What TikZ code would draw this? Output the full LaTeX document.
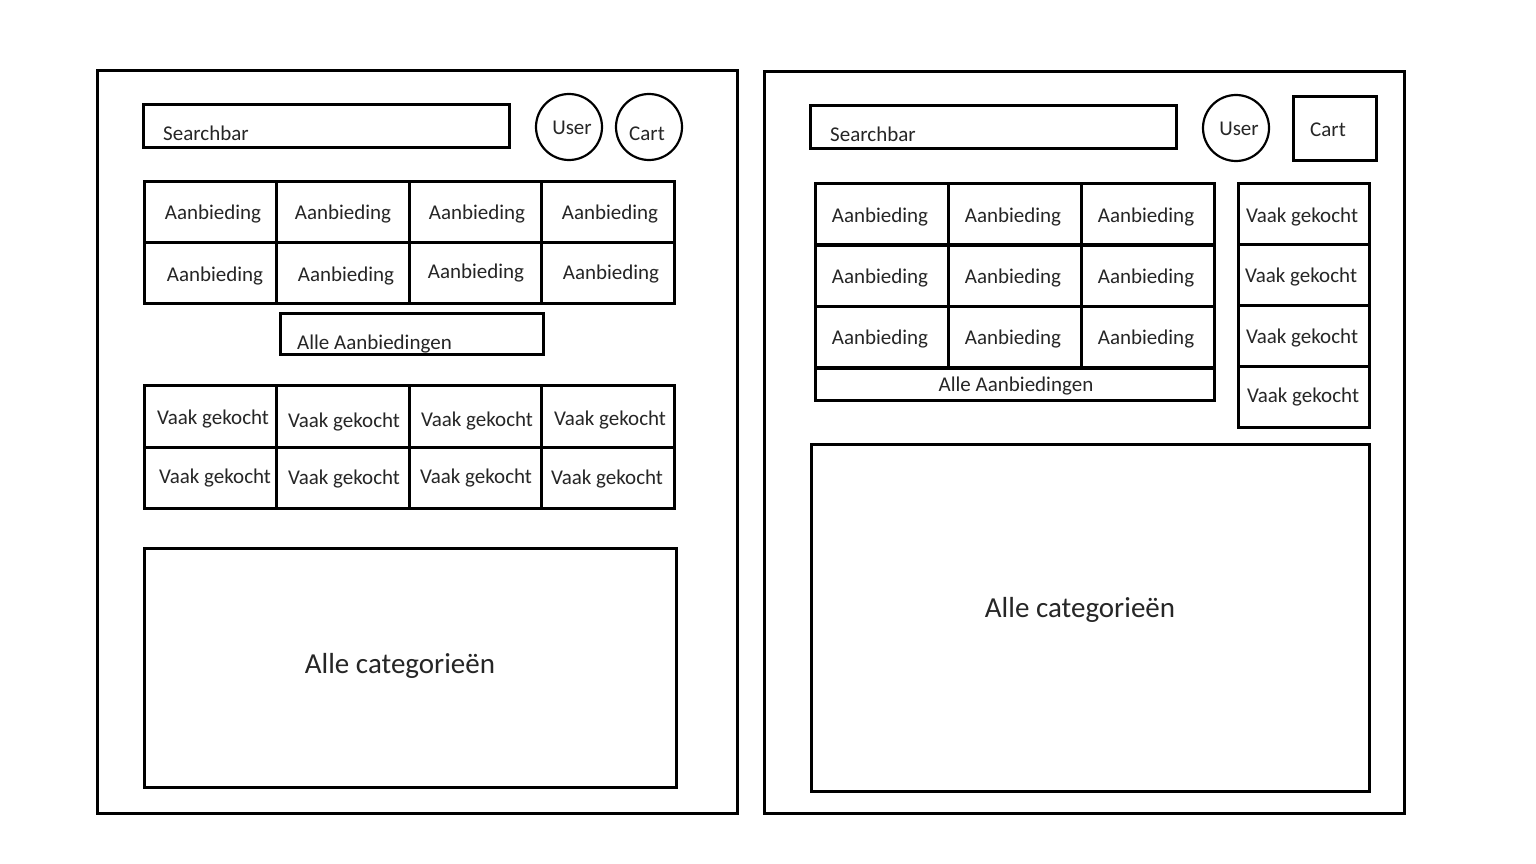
\documentclass[tikz,border=0pt]{standalone}
\usepackage{fontspec}
\setmainfont{Carlito}
\begin{document}
\begin{tikzpicture}[x=1pt,y=-1pt,
  frame/.style={draw=black,line width=3pt,inner sep=0pt,outer sep=0pt},
  cell/.style={draw=black,line width=3pt,inner sep=0pt,outer sep=0pt},
  lbl/.style={inner sep=0pt,yshift=-2.5pt,font=\fontsize{21}{21}\selectfont,text=black!85},
  round/.style={draw=black,line width=2.2pt,circle,minimum size=66pt,inner sep=0pt},
  big/.style={inner sep=0pt,yshift=-2.5pt,font=\fontsize{29}{29}\selectfont,text=black!85}]
\useasboundingbox (0,0) rectangle (1536,864);
\fill[white] (0,0) rectangle (1536,864);

% ---------- left panel ----------
\node[frame,minimum width=640pt,minimum height=742pt] (L) at (417,442) {};
\node[frame,minimum width=366pt,minimum height=42pt] (Lsearch) at (326,126) {};
\node[lbl,anchor=west] (LsearchT) at (163,131) {Searchbar};
\node[round] (Luser) at (569,127) {};
\node[lbl] (LuserT) at (572,125) {User};
\node[round] (Lcart) at (649,127) {};
\node[lbl] (LcartT) at (647,131) {Cart};

\foreach \i/\x in {1/210.5,2/343,3/475.5,4/608}{
  \node[cell,minimum width=132.5pt,minimum height=61pt] (La1\i) at (\x,211.5) {};
  \node[cell,minimum width=132.5pt,minimum height=61pt] (La2\i) at (\x,272.5) {};
  \node[cell,minimum width=132.5pt,minimum height=61.5pt] (Lv1\i) at (\x,416.5) {};
  \node[cell,minimum width=132.5pt,minimum height=61.5pt] (Lv2\i) at (\x,478) {};
}
\node[lbl] at (213,212) {Aanbieding};
\node[lbl] at (343,212) {Aanbieding};
\node[lbl] at (477,212) {Aanbieding};
\node[lbl] at (610,212) {Aanbieding};
\node[lbl] at (215,274) {Aanbieding};
\node[lbl] at (346,274) {Aanbieding};
\node[lbl] at (476,271) {Aanbieding};
\node[lbl] at (611,272) {Aanbieding};

\node[frame,minimum width=263pt,minimum height=41pt] (Lalle) at (411.5,333.5) {};
\node[lbl,anchor=west] (LalleT) at (297,342) {Alle Aanbiedingen};

\node[lbl] at (213,417) {Vaak gekocht};
\node[lbl] at (344,420) {Vaak gekocht};
\node[lbl] at (477,419) {Vaak gekocht};
\node[lbl] at (610,418) {Vaak gekocht};
\node[lbl] at (215,476) {Vaak gekocht};
\node[lbl] at (344,477) {Vaak gekocht};
\node[lbl] at (476,476) {Vaak gekocht};
\node[lbl] at (607,477) {Vaak gekocht};

\node[frame,minimum width=532pt,minimum height=239pt] (Lcat) at (410,667.5) {};
\node[big] (LcatT) at (400,663) {Alle categorieën};

% ---------- right panel ----------
\node[frame,minimum width=640pt,minimum height=741pt] (R) at (1084,442.5) {};
\node[frame,minimum width=366pt,minimum height=42pt] (Rsearch) at (993,127) {};
\node[lbl,anchor=west] (RsearchT) at (830,132) {Searchbar};
\node[round] (Ruser) at (1236,128) {};
\node[lbl] (RuserT) at (1239,126) {User};
\node[frame,minimum width=83pt,minimum height=63pt] (Rcart) at (1334.5,128.5) {};
\node[lbl] (RcartT) at (1328,127) {Cart};

\foreach \i/\x in {1/881.5,2/1014.5,3/1147.5}{
  \foreach \j/\y/\t in {1/214.5/215,2/275.5/276,3/337/337}{
    \node[cell,minimum width=133pt,minimum height=61.3pt] (Ra\j\i) at (\x,\y) {};
    \node[lbl] (Ra\j\i T) at (\x-1.5,\t) {Aanbieding};
  }
}
\node[cell,minimum width=399pt,minimum height=32pt] (Ralle) at (1014.5,384) {};
\node[lbl] (RalleT) at (1016,384) {Alle Aanbiedingen};

\foreach \j/\y in {1/213.5,2/274.5,3/335.5,4/396.5}{
  \node[cell,minimum width=131pt,minimum height=61pt] (Rv\j) at (1303.5,\y) {};
}
\node[lbl] at (1302,215) {Vaak gekocht};
\node[lbl] at (1301,275) {Vaak gekocht};
\node[lbl] at (1302,336) {Vaak gekocht};
\node[lbl] at (1303,395) {Vaak gekocht};

\node[frame,minimum width=558pt,minimum height=347pt] (Rcat) at (1090,617.5) {};
\node[big] (RcatT) at (1080,607) {Alle categorieën};
\end{tikzpicture}
\end{document}
